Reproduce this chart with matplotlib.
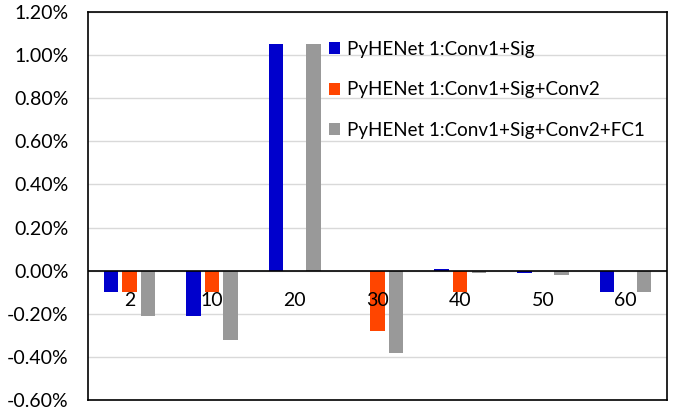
import matplotlib
matplotlib.use("Agg")
import matplotlib.pyplot as plt
from matplotlib.patches import Patch
from matplotlib.ticker import FuncFormatter
import numpy as np

plt.rcParams['font.family'] = ['Lato', 'DejaVu Sans']

categories = ["2", "10", "20", "30", "40", "50", "60"]
series_names = [
    "PyHENet 1:Conv1+Sig",
    "PyHENet 1:Conv1+Sig+Conv2",
    "PyHENet 1:Conv1+Sig+Conv2+FC1",
]
conv1_sig = [-0.10, -0.21, 1.05, 0.00, 0.01, -0.01, -0.10]
conv1_sig_conv2 = [-0.10, -0.10, 0.00, -0.28, -0.10, 0.00, 0.00]
conv1_sig_conv2_fc1 = [-0.21, -0.32, 1.05, -0.38, -0.01, -0.02, -0.10]
colors = ["#0000CC", "#FF4500", "#999999"]

fig = plt.figure(figsize=(6.75, 4.07), dpi=100)
ax = fig.add_axes([88 / 675, 1 - 400 / 407, 579 / 675, 388 / 407])

x = np.arange(len(categories))
width = 0.176
offsets = [-0.2245, 0.0, 0.2245]
for vals, off, col in zip([conv1_sig, conv1_sig_conv2, conv1_sig_conv2_fc1], offsets, colors):
    ax.bar(x + off, vals, width=width, color=col, zorder=2)

ax.set_xlim(-0.5, len(categories) - 0.5)
ax.set_ylim(-0.60, 1.20)
ax.set_yticks(np.arange(-0.60, 1.21, 0.20))
ax.yaxis.set_major_formatter(FuncFormatter(lambda v, p: f"{v:.2f}%"))
ax.tick_params(axis='y', length=0, labelsize=14, pad=14)
ax.grid(axis='y', color='#D9D9D9', linewidth=1, zorder=0)
ax.axhline(0, color='black', linewidth=1.2, zorder=3)

ax.set_xticks([])
for xi, lab in zip(x, categories):
    ax.text(xi, -0.098, lab, ha='center', va='top', fontsize=14, zorder=4)

for s in ax.spines.values():
    s.set_color('black')
    s.set_linewidth(1.2)

handles = [Patch(facecolor=c, edgecolor='none') for c in colors]
fig.legend(handles, series_names, loc='upper left',
           bbox_to_anchor=(312 / 675, 1 - 24 / 407), frameon=False,
           fontsize=13.5, handlelength=0.6, handleheight=0.6, handletextpad=0.35,
           labelspacing=1.25)

fig.savefig("out.png", dpi=100)
